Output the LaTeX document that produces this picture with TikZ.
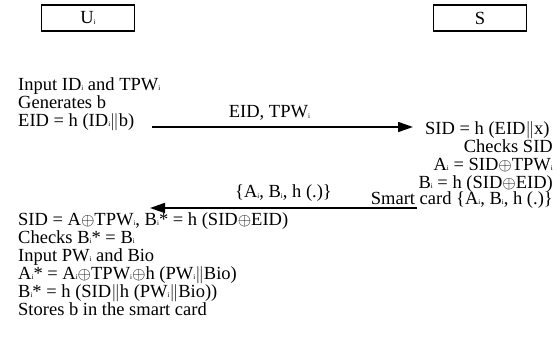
\documentclass[tikz,border=0pt]{standalone}
\usepackage{fontspec}
\setmainfont{Liberation Serif}
\usetikzlibrary{arrows.meta}

\newcommand{\sbi}{\raisebox{-0.8pt}{\fontsize{7}{7}\selectfont i}}
\newcommand{\xo}{$\oplus$}
\newcommand{\cc}{$\|$}

\begin{document}
\begin{tikzpicture}[x=1pt,y=-1pt,
  party/.style={draw,line width=1.3pt,minimum width=93pt,minimum height=26pt,inner sep=0pt},
  ln/.style={inner sep=0pt,anchor=base west},
  rln/.style={inner sep=0pt,anchor=base east},
  msg/.style={line width=1.7pt,-{Triangle[length=15pt,width=10pt]}},
  every node/.style={font=\fontsize{18.5}{18}\selectfont}]
\useasboundingbox (0,0) rectangle (560,356);

\node[party] (user) at (88,18) {U\sbi};
\node[party] (srv) at (480,18) {S};

% user side
\node[ln] (in1) at (18,90) {Input ID\sbi\ and TPW\sbi};
\node[ln] (gen) at (18,108) {Generates b};
\node[ln] (eid) at (18,126) {EID = h (ID\sbi\cc b)};

% server side
\node[ln] (sid) at (425,134) {SID = h (EID\cc x)};
\node[rln] (chk) at (553,152) {Checks SID};
\node[rln] (ai) at (553,170) {A\sbi\ = SID\xo TPW\sbi};
\node[rln] (bi) at (553,188) {B\sbi\ = h (SID\xo EID)};
\node[rln] (card) at (553,204) {Smart card \{A\sbi, B\sbi, h (.)\}};

% user again
\node[ln] (sid2) at (18,225) {SID = A\xo TPW\sbi, B\sbi* = h (SID\xo EID)};
\node[ln] (chk2) at (18,243) {Checks B\sbi* = B\sbi};
\node[ln] (pw) at (18,261) {Input PW\sbi\ and Bio};
\node[ln] (ai2) at (18,279) {A\sbi* = A\sbi\xo TPW\sbi\xo h (PW\sbi\cc Bio)};
\node[ln] (bi2) at (18,297) {B\sbi* = h (SID\cc h (PW\sbi\cc Bio))};
\node[ln] (st) at (18,315) {Stores b in the smart card};

% messages
\coordinate (m1a) at (152,127);
\coordinate (m1b) at (413,127);
\draw[msg] (m1a) -- node[above=6pt,inner sep=0pt,pos=0.45] (lab1) {EID, TPW\sbi} (m1b);
\coordinate (m2a) at (417,208);
\coordinate (m2b) at (150,208);
\draw[msg] (m2a) -- node[above=6pt,inner sep=0pt,pos=0.5] (lab2) {\{A\sbi, B\sbi, h (.)\}} (m2b);
\end{tikzpicture}
\end{document}
